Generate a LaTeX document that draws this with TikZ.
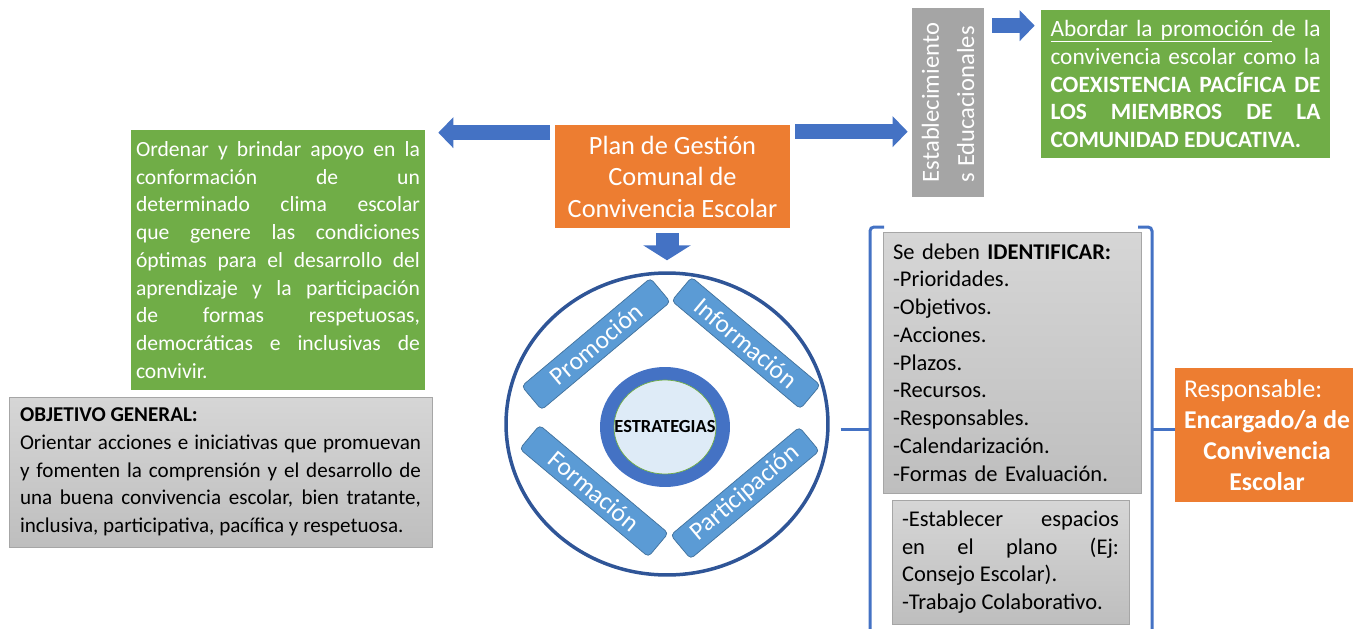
\documentclass[tikz,border=0pt]{standalone}
\usepackage{fontspec}
\setmainfont{Carlito}
\usetikzlibrary{arrows.meta,positioning,shapes.geometric,calc}
\definecolor{orangebox}{HTML}{ED7D31}
\definecolor{greenbox}{HTML}{70AD47}
\definecolor{bluearrow}{HTML}{4472C4}
\definecolor{darkblue}{HTML}{2F5597}
\definecolor{barblue}{HTML}{5B9BD5}
\definecolor{barline}{HTML}{41719C}
\definecolor{lightblue}{HTML}{DEEBF7}
\definecolor{graybox}{HTML}{A5A5A5}
\definecolor{graytop}{HTML}{D6D6D6}
\definecolor{graybot}{HTML}{BEBEBE}
\definecolor{grayline}{HTML}{A6A6A6}
\tolerance=10000
\hyphenpenalty=10000
\newcommand{\ulw}[1]{\setbox0\hbox{#1}\rlap{\rule[-3.2pt]{\wd0}{0.5pt}}\box0}
\newcommand{\uls}{\leaders\hrule height -2.7pt depth 3.2pt\hskip\fontdimen2\font plus\fontdimen3\font minus\fontdimen4\font}
\tikzset{
  blockarrow/.style={draw=bluearrow,line width=0.3cm,-{Triangle[length=0.3cm,width=0.6cm]}},
  txt/.style={font=\fontsize{12}{15.8}\selectfont}
}

\begin{document}
\begin{tikzpicture}[x=0.02cm,y=-0.02cm]
		\useasboundingbox (0,0) rectangle (1353,629);
		\clip (0,0) rectangle (1353,629);

		\begin{scope}[every node/.style={fill=orangebox,text=white,align=center,inner sep=0pt}]
			\node[minimum width=4.7cm,minimum height=2.06cm,font=\fontsize{15}{17.9}\selectfont] (plan) at (672.5,176.5) {Plan de Gestión\\Comunal de\\Convivencia Escolar};
			\node[minimum width=3.68cm,minimum height=2.68cm,font=\fontsize{14.6}{17.6}\selectfont] (resp) at (1267,435) {\makebox[0pt][l]{Responsable:}\phantom{\textbf{Encargado/a de}}\\\textbf{Encargado/a de}\\\textbf{Convivencia}\\\textbf{Escolar}};
		\end{scope}

		\begin{scope}[every node/.style={fill=greenbox,text=white,align=justify,inner xsep=0.1cm}]
			\node[text width=5.68cm,minimum height=5.2cm,font=\fontsize{12.3}{15.8}\selectfont] (ordenar) at (278,260) {Ordenar y brindar apoyo en la\linebreak conformación de un\linebreak determinado clima escolar\linebreak que genere las condiciones\linebreak óptimas para el desarrollo del\linebreak aprendizaje y la participación\linebreak de formas respetuosas,\linebreak democráticas e inclusivas de\linebreak convivir.};
			\node[text width=5.4cm,inner xsep=0.19cm,minimum height=2.96cm,font=\fontsize{13.3}{15.8}\selectfont] (abordar) at (1185.5,84) {\ulw{Abordar}\uls\ulw{la}\uls\ulw{promoción}\uls de la\linebreak convivencia escolar como la\linebreak \textbf{COEXISTENCIA PACÍFICA DE\linebreak LOS MIEMBROS DE LA\linebreak COMUNIDAD EDUCATIVA.}};
		\end{scope}

		\node[fill=graybox,text=white,rotate=90,minimum width=3.78cm,minimum height=1.44cm,inner sep=0pt,align=left,font=\fontsize{14}{20}\selectfont] (estab) at (948,102.5) {Establecimiento\\s Educacionales};

		\begin{scope}[every node/.style={draw=grayline,top color=graytop,bottom color=graybot,font=\fontsize{12.8}{15.8}\selectfont}]
			\node[text width=8.02cm,inner xsep=0.22cm,minimum height=3cm,align=justify,txt] (obj) at (220.5,472) {\textbf{OBJETIVO GENERAL:}\\Orientar acciones e iniciativas que promuevan\linebreak y fomenten la comprensión y el desarrollo de\linebreak una buena convivencia escolar, bien tratante,\linebreak inclusiva, participativa, pacífica y respetuosa.};
			\node[text width=4.76cm,inner xsep=0.2cm,minimum height=5.22cm,align=left] (ident) at (1012,362.5) {Se deben \textbf{IDENTIFICAR:}\\-Prioridades.\\-Objetivos.\\-Acciones.\\-Plazos.\\-Recursos.\\-Responsables.\\-Calendarización.\\-Formas de Evaluación.\par\vspace*{0.6cm}};
			\node[text width=4.34cm,inner xsep=0.2cm,minimum height=2.48cm,align=justify] (espacios) at (1010.5,562) {-Establecer espacios\linebreak en el plano (Ej:\linebreak Consejo Escolar).\\-Trabajo Colaborativo.};
		\end{scope}

		\node[ellipse,draw=darkblue,line width=0.07cm,minimum width=6.44cm,minimum height=6.04cm,inner sep=0pt] (circ) at (667,424) {};
		\node[ellipse,fill=bluearrow,minimum width=2.6cm,minimum height=2.4cm,inner sep=0pt] (ring) at (665,427) {};
		\node[ellipse,fill=lightblue,draw=greenbox,minimum width=2.04cm,minimum height=1.88cm,inner sep=0pt,font=\bfseries\fontsize{10.5}{12}\selectfont] (core) at (665,427) {\makebox[0pt]{ESTRATEGIAS}};

		\begin{scope}[every node/.style={fill=barblue,draw=barline,text=white,rounded corners=0.08cm,minimum width=3.36cm,minimum height=0.62cm,inner sep=0pt,font=\fontsize{14.5}{16}\selectfont}]
			\node[rotate=40] (promo) at (596,344) {Promoción};
			\node[rotate=-40] (info) at (746,343) {Información};
			\node[rotate=-40] (form) at (594,491) {Formación};
			\node[rotate=40] (part) at (745,493) {Participación};
		\end{scope}

		\begin{scope}[blockarrow]
			\path ([yshift=-0.16cm]plan.north west) edge[shorten <=0.1cm,shorten >=0.26cm] ([yshift=-0.16cm]plan.north west -| ordenar.east);
			\path ([yshift=-0.14cm]plan.north east) edge[shorten <=0.1cm,shorten >=0.08cm] ([yshift=-0.14cm]plan.north east -| estab.north);
			\path ([yshift=-0.36cm]estab.south east) edge[shorten <=0.16cm,shorten >=0.12cm] ([yshift=-0.36cm]estab.south east -| abordar.west);
			\path (circ.north |- plan.south) edge[line width=0.46cm,-{Triangle[length=0.3cm,width=0.94cm]},shorten <=0.1cm,shorten >=0.22cm] (circ.north);
		\end{scope}

		\begin{scope}[color=bluearrow,line width=0.06cm]
			\coordinate (lb) at (870,429);
			\coordinate (rb) at (1152,429);
			\draw[rounded corners=0.08cm] (884,227) -- (870,227) -- (870,640);
			\draw[rounded corners=0.08cm] (1138,227) -- (1152,227) -- (1152,640);
			\draw ([xshift=0.22cm]circ.east |- lb) -- (lb);
			\draw (rb) -- (resp.west |- rb);
		\end{scope}
	\end{tikzpicture}
\end{document}
